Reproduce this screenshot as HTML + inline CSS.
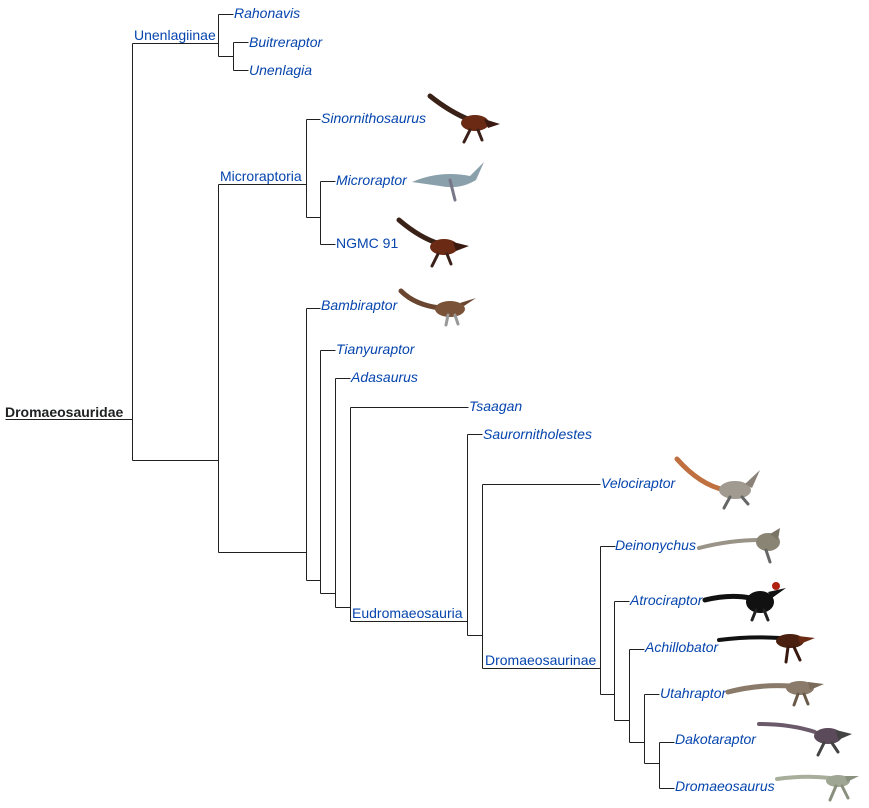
<!DOCTYPE html>
<html><head><meta charset="utf-8"><style>
html,body{margin:0;padding:0;background:#fff;width:869px;height:808px;overflow:hidden}
svg{display:block}
text{font-family:"Liberation Sans",Arial,sans-serif;font-size:14px;fill:#0645ad}
.i{font-style:italic}
.l{stroke:#202020;stroke-width:1;fill:none}
</style></head><body>
<svg width="869" height="808" viewBox="0 0 869 808" xmlns="http://www.w3.org/2000/svg">
<g class="l" transform="translate(0.5,0.5)">
<path d="M5 419H132M132 43V460M132 43H218M132 460H218"/>
<path d="M218 14V56M218 14H233M218 56H233M233 42V70M233 42H248M233 70H248"/>
<path d="M218 184V552M218 184H306M306 119V217M306 119H320M306 217H320M320 181V244M320 181H335M320 244H335"/>
<path d="M218 552H306M306 308V580M306 308H320M306 580H320M320 350V593M320 350H335M320 593H335M335 378V607M335 378H350M335 607H350M350 407V621M350 407H468M350 621H467"/>
<path d="M467 434V635M467 434H482M467 635H482M482 484V668M482 484H600M482 668H600"/>
<path d="M600 546V694M600 546H615M600 694H614M614 601V720M614 601H629M614 720H629M629 649V742M629 649H644M629 742H644M644 694V763M644 694H659M644 763H659M659 742V788M659 742H674M659 788H674"/>
</g>
<text x="5" y="417" style="fill:#202122;font-weight:bold">Dromaeosauridae</text>
<text x="134" y="40">Unenlagiinae</text>
<text class="i" x="234" y="18">Rahonavis</text>
<text class="i" x="249" y="47">Buitreraptor</text>
<text class="i" x="249" y="75">Unenlagia</text>
<text x="220" y="181">Microraptoria</text>
<text class="i" x="321" y="123">Sinornithosaurus</text>
<text class="i" x="336" y="185">Microraptor</text>
<text x="336" y="248">NGMC 91</text>
<text class="i" x="321" y="310">Bambiraptor</text>
<text class="i" x="336" y="354">Tianyuraptor</text>
<text class="i" x="351" y="382">Adasaurus</text>
<text class="i" x="469" y="411">Tsaagan</text>
<text class="i" x="483" y="439">Saurornitholestes</text>
<text x="352" y="618">Eudromaeosauria</text>
<text class="i" x="601" y="488">Velociraptor</text>
<text x="485" y="665">Dromaeosaurinae</text>
<text class="i" x="615" y="550">Deinonychus</text>
<text class="i" x="630" y="605">Atrociraptor</text>
<text class="i" x="645" y="652">Achillobator</text>
<text class="i" x="660" y="698">Utahraptor</text>
<text class="i" x="675" y="744">Dakotaraptor</text>
<text class="i" x="675" y="791">Dromaeosaurus</text>
<g stroke-linecap="round">
<path d="M430 96 Q450 112 470 120" stroke="#3a2118" stroke-width="5" fill="none"/>
<ellipse cx="475" cy="123" rx="14" ry="8" fill="#6b2a14"/><path d="M484 119 L500 124 L488 128Z" fill="#3a1a10"/><path d="M470 130 L464 142 M478 130 L482 140" stroke="#3a2018" stroke-width="3"/>
<path d="M412 182 Q440 170 470 176 L484 162 L476 180 Q460 190 440 186Z" fill="#8aa0ab"/><path d="M450 180 L455 200" stroke="#778" stroke-width="3"/>
<path d="M399 220 Q420 238 440 244" stroke="#3a2118" stroke-width="5" fill="none"/>
<ellipse cx="444" cy="247" rx="14" ry="8" fill="#6b2a14"/><path d="M453 242 L469 246 L456 251Z" fill="#3a1a10"/><path d="M438 254 L432 266 M447 254 L451 264" stroke="#3a2018" stroke-width="3"/>
<path d="M401 291 Q415 305 440 308" stroke="#6a4630" stroke-width="5" fill="none"/>
<ellipse cx="450" cy="309" rx="15" ry="8" fill="#7a5238"/><path d="M460 303 L476 298 L464 306Z" fill="#6a4630"/><path d="M448 315 L446 325 M455 315 L458 324" stroke="#999" stroke-width="3"/>
<path d="M677 459 Q700 485 725 490" stroke="#c07040" stroke-width="5" fill="none"/>
<ellipse cx="735" cy="490" rx="16" ry="9" fill="#a09a90"/><path d="M745 484 L760 470 L752 488Z" fill="#8a8278"/><path d="M730 497 L724 508 M742 497 L748 504" stroke="#666" stroke-width="3"/>
<path d="M699 548 Q730 540 760 540" stroke="#9a9488" stroke-width="4" fill="none"/>
<ellipse cx="768" cy="542" rx="12" ry="9" fill="#8a8474"/><path d="M770 534 L780 528 L778 540Z" fill="#7a7466"/><path d="M766 550 L770 562" stroke="#666" stroke-width="3"/>
<path d="M705 600 Q730 594 750 598" stroke="#111" stroke-width="5" fill="none"/>
<ellipse cx="760" cy="602" rx="14" ry="11" fill="#111"/><path d="M768 592 L786 588 L772 598Z" fill="#111"/><circle cx="776" cy="586" r="4" fill="#b02010"/><path d="M756 610 L752 620 M764 610 L768 620" stroke="#222" stroke-width="3"/>
<path d="M719 640 Q750 636 780 638" stroke="#111" stroke-width="4" fill="none"/>
<ellipse cx="790" cy="641" rx="14" ry="7" fill="#4a2010"/><path d="M798 636 L815 638 L800 644Z" fill="#6a2a14"/><path d="M788 647 L786 662 M794 647 L800 660" stroke="#3a1a10" stroke-width="3"/>
<path d="M728 692 Q760 684 790 686" stroke="#8a7a6a" stroke-width="5" fill="none"/>
<ellipse cx="800" cy="688" rx="14" ry="7" fill="#8a7a6a"/><path d="M808 682 L824 684 L810 690Z" fill="#7a6a5a"/><path d="M798 694 L794 705 M804 694 L808 704" stroke="#6a5a4a" stroke-width="3"/>
<path d="M759 724 Q790 724 815 732" stroke="#6a5a6a" stroke-width="4" fill="none"/>
<ellipse cx="828" cy="736" rx="14" ry="8" fill="#5a4a5a"/><path d="M836 730 L852 734 L838 740Z" fill="#444"/><path d="M824 743 L818 755 M832 743 L838 752" stroke="#444" stroke-width="3"/>
<path d="M777 779 Q805 775 830 778" stroke="#a8ae9c" stroke-width="4" fill="none"/>
<ellipse cx="838" cy="781" rx="12" ry="6" fill="#a0a694"/><path d="M845 776 L859 776 L847 782Z" fill="#8a907e"/><path d="M836 786 L830 800 M842 786 L848 798" stroke="#8a907e" stroke-width="3"/>
</g>
</svg>
</body></html>
